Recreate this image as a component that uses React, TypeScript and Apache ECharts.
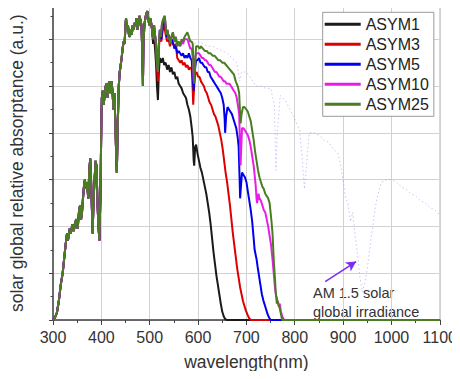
import React, { useEffect, useRef } from "react";
import * as echarts from "echarts";

// ---- data (wavelength nm, relative absorptance a.u.) ----
const seriesNames = ["ASYM1", "ASYM3", "ASYM5", "ASYM10", "ASYM25"];
const seriesColors = ["#1a1a1a", "#dd0000", "#0000ee", "#e81ee8", "#4a7d22"];

// shared part of all five spectra
const commonPart: number[][] = [
  [300, 0], [304, 0.05], [308, 0.15], [312, 0.4], [316, 0.75], [320, 1.0], [323, 1.3], [326, 1.6],
  [329, 1.85], [331, 1.7], [334, 1.95], [337, 1.85], [340, 2.05], [343, 1.9], [346, 2.1], [349, 2.15],
  [351, 1.95], [354, 2.35], [356, 2.45], [358, 2.15], [360, 2.3], [362, 2.6], [364, 2.85], [366, 3.0],
  [368, 2.8], [370, 2.95], [373, 2.6], [375, 3.2], [377, 3.45], [379, 2.9], [381, 2.2], [382, 1.85],
  [384, 2.6], [386, 3.0], [388, 3.4], [390, 3.3], [392, 2.5], [394, 2.0], [396, 1.7], [398, 2.6],
  [400, 4.2], [401, 4.75], [403, 4.9], [405, 4.6], [407, 4.85], [409, 5.0], [411, 5.05], [413, 4.75],
  [415, 5.05], [417, 5.1], [419, 4.85], [421, 5.1], [423, 4.9], [425, 4.5], [427, 4.85], [429, 4.2],
  [431, 3.4], [432, 3.15], [434, 4.2], [436, 5.0], [438, 5.3], [440, 5.45], [442, 5.6], [444, 5.8],
  [446, 5.95], [448, 5.9], [450, 6.3], [451, 6.45], [453, 6.2], [455, 6.3], [457, 6.1], [459, 6.05],
  [461, 6.2], [463, 6.1], [465, 6.3], [467, 6.2], [469, 6.35], [471, 6.3], [473, 6.45], [475, 6.2],
  [477, 6.35], [479, 6.5], [481, 6.4], [483, 6.3], [485, 5.6], [486, 5.0], [487, 5.9], [489, 6.3],
  [491, 6.45], [493, 6.55], [495, 6.6], [497, 6.45], [499, 6.3], [501, 6.45], [503, 6.35], [505, 6.2],
];

const asym1Tail: number[][] = [
  [507, 5.9], [509, 6.1], [511, 5.8], [513, 5.5], [515, 5.0], [517, 4.7], [519, 5.3], [521, 5.6],
  [524, 5.5], [527, 5.6], [530, 5.45], [533, 5.5], [536, 5.35], [539, 5.45], [542, 5.3], [545, 5.4],
  [548, 5.25], [551, 5.3], [554, 5.15], [557, 5.2], [560, 5.05], [563, 5.0], [566, 4.95], [569, 4.85],
  [572, 4.8], [575, 4.75], [578, 4.6], [581, 4.5], [584, 4.35], [587, 4.1], [589, 3.9], [591, 3.4],
  [592, 3.3], [594, 3.7], [596, 3.75], [599, 3.55], [602, 3.4], [605, 3.25], [608, 3.15], [611, 3.0],
  [614, 2.85], [617, 2.7], [620, 2.5], [623, 2.3], [626, 2.05], [629, 1.75], [632, 1.45], [635, 1.2],
  [638, 0.95], [641, 0.75], [644, 0.55], [647, 0.35], [650, 0.18], [653, 0.08], [656, 0.02], [660, 0],
  [1100, 0],
];

const asym3Tail: number[][] = [
  [507, 6.0], [509, 6.25], [511, 6.05], [513, 5.85], [515, 5.4], [517, 5.1], [519, 5.8], [521, 6.1],
  [524, 5.95], [527, 6.2], [530, 6.3], [533, 6.1], [536, 5.95], [539, 6.0], [542, 5.85], [545, 5.95],
  [548, 5.9], [551, 5.85], [554, 5.9], [557, 5.6], [560, 5.55], [563, 5.5], [566, 5.55], [569, 5.45],
  [572, 5.5], [575, 5.4], [578, 5.45], [581, 5.35], [584, 5.4], [587, 5.35], [589, 4.9], [590, 4.6],
  [592, 5.0], [594, 5.25], [597, 5.3], [600, 5.2], [603, 5.2], [606, 5.1], [609, 5.05], [612, 5.0],
  [615, 4.9], [618, 4.85], [621, 4.75], [624, 4.65], [627, 4.6], [630, 4.5], [633, 4.4], [636, 4.35],
  [639, 4.25], [642, 4.15], [645, 4.0], [648, 3.85], [651, 3.65], [654, 3.4], [657, 3.15], [660, 2.95],
  [663, 2.7], [666, 2.45], [669, 2.15], [672, 1.85], [675, 1.6], [678, 1.35], [681, 1.1], [684, 0.9],
  [687, 0.7], [690, 0.55], [693, 0.4], [696, 0.3], [699, 0.2], [702, 0.12], [706, 0.03], [710, 0],
  [1100, 0],
];

const asym5Tail: number[][] = [
  [507, 6.0], [509, 6.3], [511, 6.1], [513, 5.9], [515, 5.5], [517, 5.3], [519, 5.9], [521, 6.2],
  [524, 6.0], [527, 6.3], [530, 6.4], [533, 6.25], [536, 6.05], [539, 6.1], [542, 5.95], [545, 6.0],
  [548, 5.95], [551, 5.8], [554, 5.85], [557, 5.7], [560, 5.75], [563, 5.7], [566, 5.65], [569, 5.7],
  [572, 5.6], [575, 5.65], [578, 5.6], [581, 5.7], [584, 5.6], [587, 5.55], [589, 5.2], [591, 4.9],
  [593, 5.3], [596, 5.55], [599, 5.55], [602, 5.6], [605, 5.5], [608, 5.5], [611, 5.45], [614, 5.4],
  [617, 5.4], [620, 5.3], [623, 5.3], [626, 5.2], [629, 5.15], [632, 5.1], [635, 5.05], [638, 5.0],
  [641, 4.95], [644, 4.9], [647, 4.85], [650, 4.75], [653, 4.6], [655, 4.3], [656, 4.0], [658, 4.35],
  [661, 4.55], [664, 4.5], [667, 4.45], [670, 4.4], [673, 4.3], [676, 4.2], [679, 4.1], [682, 3.9],
  [684, 3.7], [686, 3.0], [687, 2.6], [689, 2.9], [691, 3.15], [694, 3.1], [697, 3.05], [700, 2.95],
  [703, 2.75], [706, 2.55], [709, 2.35], [712, 2.1], [715, 1.75], [717, 1.5], [719, 1.4], [721, 1.3],
  [723, 1.15], [726, 0.95], [729, 0.75], [732, 0.55], [735, 0.42], [738, 0.32], [741, 0.22], [744, 0.12],
  [747, 0.05], [750, 0], [1100, 0],
];

const asym10Tail: number[][] = [
  [507, 6.0], [509, 6.3], [511, 6.1], [513, 5.9], [515, 5.5], [517, 5.3], [519, 5.9], [521, 6.2],
  [523, 6.05], [525, 6.3], [527, 6.4], [529, 6.45], [531, 6.5], [533, 6.3], [535, 6.1], [537, 6.2],
  [539, 6.0], [541, 6.05], [543, 5.9], [545, 6.05], [548, 6.15], [551, 5.95], [554, 6.05], [557, 5.85],
  [560, 5.95], [563, 5.85], [566, 5.95], [569, 5.9], [572, 6.0], [575, 6.0], [578, 6.0], [581, 5.9],
  [584, 5.8], [587, 5.8], [589, 5.6], [591, 5.1], [593, 5.5], [596, 5.7], [599, 5.7], [602, 5.7],
  [605, 5.65], [608, 5.6], [611, 5.6], [614, 5.55], [617, 5.55], [620, 5.5], [623, 5.45], [626, 5.45],
  [629, 5.4], [632, 5.35], [635, 5.3], [638, 5.3], [641, 5.25], [644, 5.2], [647, 5.2], [650, 5.15],
  [653, 5.1], [656, 5.1], [659, 5.05], [662, 5.05], [665, 5.05], [668, 5.0], [671, 4.95], [674, 4.9],
  [677, 4.85], [680, 4.75], [683, 4.55], [685, 4.4], [687, 3.7], [688, 3.3], [689, 3.6], [691, 4.1],
  [694, 4.1], [697, 4.05], [700, 4.0], [703, 3.95], [706, 3.85], [709, 3.7], [712, 3.5], [715, 3.3],
  [717, 3.1], [719, 2.9], [721, 2.6], [722, 2.5], [723, 2.55], [725, 2.7], [727, 2.6], [730, 2.55],
  [733, 2.45], [736, 2.35], [739, 2.3], [742, 2.15], [745, 2.0], [748, 1.8], [751, 1.6], [754, 1.3],
  [757, 0.95], [759, 0.7], [761, 0.55], [764, 0.43], [767, 0.3], [769, 0.35], [771, 0.2], [774, 0.08],
  [778, 0], [1100, 0],
];

const asym25Tail: number[][] = [
  [507, 6.0], [509, 6.3], [511, 6.1], [513, 5.9], [515, 5.5], [517, 5.3], [519, 5.9], [521, 6.2],
  [523, 6.05], [525, 6.3], [527, 6.4], [529, 6.45], [531, 6.5], [533, 6.3], [535, 6.1], [537, 6.2],
  [539, 6.0], [541, 6.05], [543, 5.9], [545, 6.05], [548, 6.15], [551, 5.95], [554, 6.05], [557, 5.85],
  [560, 5.95], [563, 5.85], [566, 6.0], [569, 5.95], [572, 6.05], [575, 6.1], [578, 6.15], [581, 6.05],
  [584, 5.95], [587, 5.95], [589, 5.9], [591, 5.3], [592, 5.05], [594, 5.5], [596, 5.85], [600, 5.85],
  [603, 5.8], [606, 5.85], [610, 5.8], [614, 5.75], [618, 5.75], [622, 5.7], [626, 5.7], [630, 5.65],
  [634, 5.65], [638, 5.6], [642, 5.55], [646, 5.55], [650, 5.5], [654, 5.5], [658, 5.45], [662, 5.4],
  [666, 5.35], [670, 5.3], [674, 5.25], [678, 5.1], [682, 5.0], [685, 4.85], [687, 4.4], [688, 4.2],
  [690, 4.4], [693, 4.55], [696, 4.55], [700, 4.5], [703, 4.45], [706, 4.35], [709, 4.25], [712, 4.05],
  [715, 3.85], [718, 3.6], [721, 3.4], [724, 3.2], [727, 3.05], [730, 2.95], [733, 2.85], [736, 2.8],
  [739, 2.7], [742, 2.65], [745, 2.6], [748, 2.5], [750, 2.3], [752, 2.1], [754, 1.85], [757, 1.2],
  [759, 0.9], [761, 0.55], [763, 0.35], [765, 0.4], [767, 0.3], [769, 0.25], [771, 0.15], [774, 0],
  [1100, 0],
];

// AM 1.5 solar global irradiance (scaled), drawn dotted
const am15: number[][] = [
  [580, 6.0], [590, 5.9], [600, 5.95], [610, 5.9], [620, 5.85], [630, 5.85], [640, 5.8], [650, 5.75],
  [660, 5.7], [670, 5.6], [680, 5.5], [686, 5.1], [690, 5.3], [700, 5.3], [710, 5.15], [720, 5.0],
  [730, 5.0], [740, 4.95], [750, 4.95], [758, 4.6], [761, 3.2], [764, 4.0], [770, 4.8], [780, 4.7],
  [790, 4.5], [800, 4.3], [810, 4.05], [815, 3.5], [820, 2.8], [825, 3.4], [830, 4.0], [840, 4.0],
  [850, 3.95], [860, 3.85], [870, 3.8], [880, 3.65], [890, 3.55], [895, 3.3], [900, 3.0], [905, 2.6],
  [910, 2.5], [915, 2.1], [920, 2.3], [925, 1.8], [930, 1.4], [935, 0.9], [940, 0.6], [945, 0.8],
  [950, 1.1], [955, 1.5], [960, 1.9], [965, 2.3], [970, 2.6], [975, 2.8], [980, 2.95], [990, 3.0],
  [1000, 3.0], [1010, 2.95], [1020, 2.85], [1030, 2.8], [1040, 2.7], [1050, 2.65], [1060, 2.55],
  [1070, 2.5], [1080, 2.4], [1090, 2.35], [1100, 2.25],
];

// arrow of the annotation, in data coordinates
const arrowFrom = [863, 0.82];
const arrowTo = [927, 1.25];
const annotationLines = ["AM 1.5 solar", "global irradiance"];

const tails = [asym1Tail, asym3Tail, asym5Tail, asym10Tail, asym25Tail];

const FONT = "'Liberation Sans', Arial, Helvetica, sans-serif";

export default function App() {
  const ref = useRef<HTMLDivElement>(null);
  useEffect(() => {
    if (!ref.current) return;
    const chart = echarts.init(ref.current, null, { renderer: "svg" });
    const series: any[] = [
      {
        name: "AM1.5",
        type: "line",
        data: am15,
        symbol: "none",
        silent: true,
        z: 1,
        lineStyle: { color: "rgba(150,120,235,0.45)", width: 1, type: [1.5, 2.5] },
        markLine: {
          silent: true,
          symbol: ["none", "arrow"],
          symbolSize: [8, 10],
          lineStyle: { color: "#7a2cf0", width: 1.5, type: "solid" },
          label: { show: false },
          data: [[{ coord: arrowFrom }, { coord: arrowTo }]],
        },
      },
      ...seriesNames.map((name, i) => ({
        name,
        type: "line",
        data: [...commonPart, ...tails[i]],
        symbol: "none",
        z: 2 + i,
        lineStyle: { color: seriesColors[i], width: 2 },
        itemStyle: { color: seriesColors[i] },
      })),
    ];
    chart.setOption({
      animation: false,
      textStyle: { fontFamily: FONT },
      grid: {
        left: 52.7,
        right: 18.5,
        top: 6.5,
        bottom: 59,
        show: true,
        borderColor: "#c8c8c8",
        borderWidth: 1,
      },
      legend: {
        data: seriesNames,
        orient: "vertical",
        left: 322.7,
        top: 12.3,
        icon: "rect",
        itemWidth: 36,
        itemHeight: 3,
        itemGap: 4,
        padding: [4, 5, 4, 2],
        borderColor: "#9a9a9a",
        borderWidth: 1,
        backgroundColor: "#fff",
        textStyle: { fontSize: 16, color: "#222", lineHeight: 16, fontFamily: FONT },
      },
      xAxis: {
        type: "value",
        min: 300,
        max: 1100,
        interval: 100,
        name: "wavelength(nm)",
        nameLocation: "middle",
        nameGap: 33,
        nameTextStyle: { fontSize: 17.5, color: "#333", fontFamily: FONT },
        axisLine: { show: true, lineStyle: { color: "#444", width: 1.5 } },
        axisTick: { show: true, inside: false, length: 5, lineStyle: { color: "#444" } },
        minorTick: { show: true, splitNumber: 2, length: 3, lineStyle: { color: "#444" } },
        axisLabel: {
          fontSize: 16,
          color: "#333",
          margin: 9,
          fontFamily: FONT,
          formatter: (v: number) => String(v),
        },
        splitLine: { show: true, lineStyle: { color: "#d2d2d2", width: 1 } },
      },
      yAxis: {
        type: "value",
        min: 0,
        max: 6.7,
        interval: 1,
        name: "solar global relative absorptance (a.u.)",
        nameLocation: "middle",
        nameGap: 27,
        nameTextStyle: { fontSize: 17.5, color: "#333", fontFamily: FONT },
        axisLine: { show: true, lineStyle: { color: "#444", width: 1.5 } },
        axisTick: { show: true, inside: false, length: 4, lineStyle: { color: "#444" } },
        minorTick: { show: true, splitNumber: 2, length: 2.5, lineStyle: { color: "#444" } },
        axisLabel: { show: false },
        splitLine: { show: true, lineStyle: { color: "#d2d2d2", width: 1 } },
      },
      graphic: annotationLines.map((t, i) => ({
        type: "text",
        left: 313,
        top: 285 + i * 19.5,
        silent: true,
        style: { text: t, fontSize: 14.5, fill: "#333", fontFamily: FONT },
      })),
      series,
    });
    return () => chart.dispose();
  }, []);
  return <div ref={ref} style={{ width: 460, height: 379, margin: -8 }} />;
}
